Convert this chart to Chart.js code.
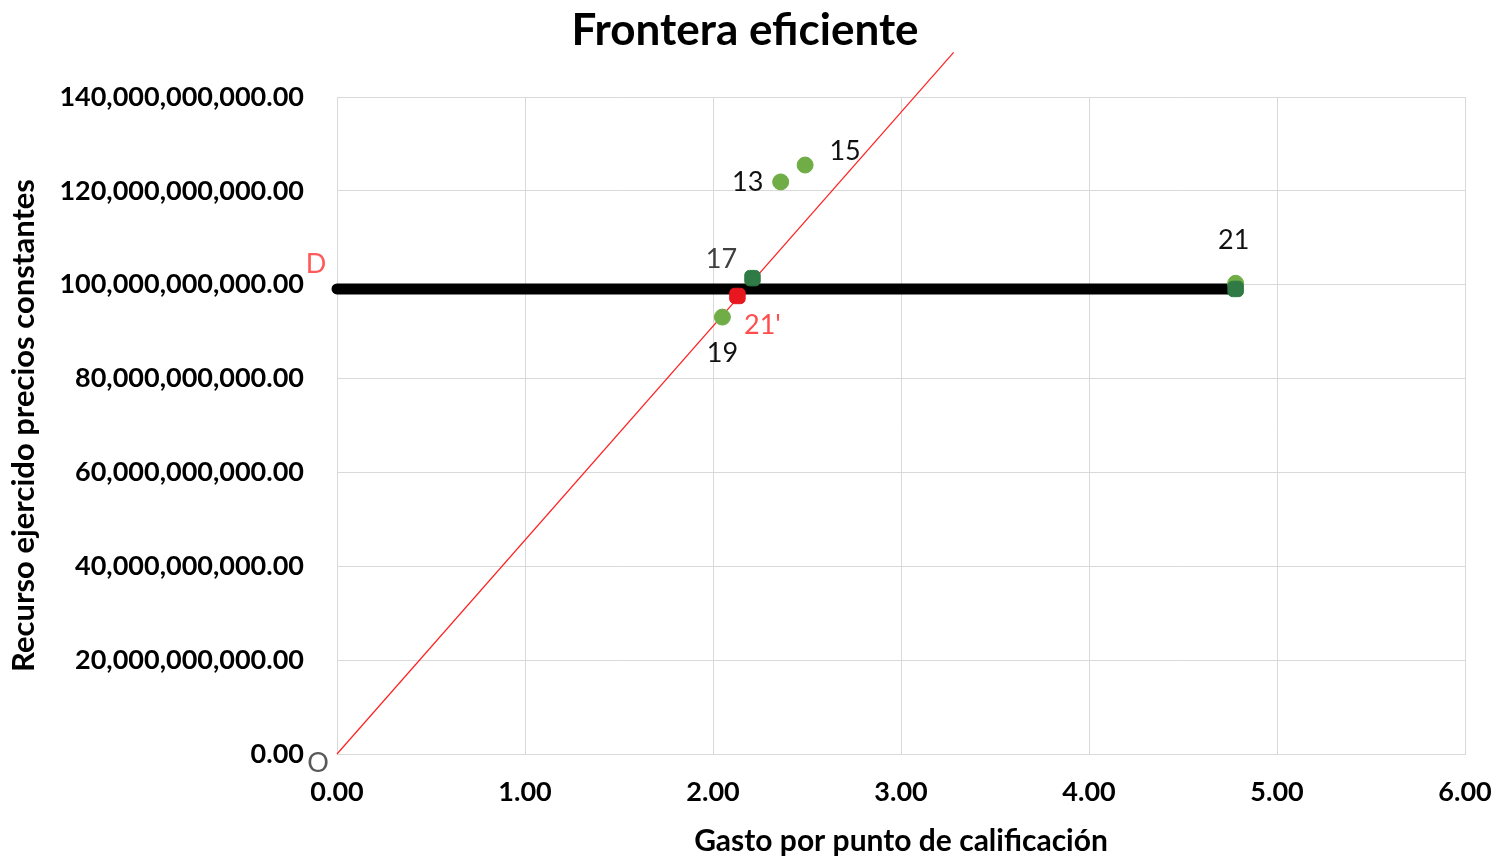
<!DOCTYPE html>
<html>
<head>
<meta charset="utf-8">
<script src="https://cdn.jsdelivr.net/npm/chart.js@4"></script>
<style>
  html, body { margin: 0; padding: 0; background: #fff; }
  #wrap { width: 1499px; height: 859px; }
</style>
</head>
<body>
<div id="wrap"><canvas id="chart" width="1499" height="859"></canvas></div>
<script>
// datos
const labelsVerdes = ['13', '15', '19', '21'];
const gastoVerdes = [2.36, 2.49, 2.05, 4.78];
const recursoVerdes = [121.9e9, 125.5e9, 93.1e9, 100.3e9];

const labelsOscuros = ['17', ''];
const gastoOscuros = [2.21, 4.78];
const recursoOscuros = [101.4e9, 99.1e9];

const labelRojo = "21'";
const gastoRojo = [2.13];
const recursoRojo = [97.6e9];

// linea D (horizontal) y linea O (frontera desde el origen)
const lineaDx = [0, 4.78];
const lineaDy = [99.1e9, 99.1e9];
const lineaOx = [0, 3.28];
const lineaOy = [0, 149.5e9];

const xTicks = [0, 1, 2, 3, 4, 5, 6];
const yTicks = [0, 20e9, 40e9, 60e9, 80e9, 100e9, 120e9, 140e9];

const pares = (xs, ys) => xs.map((x, i) => ({x: x, y: ys[i]}));

// desplazamiento de las etiquetas respecto al punto (px)
const offsetEtiquetas = {
    '13': [-33, 0], '15': [40, -14], '19': [0, 36], '21': [-2, -43],
    '17': [-31, -19], "21'": [25, 29]
};

const etiquetasPlugin = {
    id: 'etiquetas',
    afterDatasetsDraw(chart) {
        const {ctx, scales: {x, y}} = chart;
        ctx.save();
        ctx.textAlign = 'center';
        ctx.textBaseline = 'middle';
        ctx.font = '27px Lato';
        const dibuja = (txt, gx, ry, color) => {
            if (!txt) return;
            const off = offsetEtiquetas[txt];
            ctx.fillStyle = color;
            ctx.fillText(txt, x.getPixelForValue(gx) + off[0], y.getPixelForValue(ry) + off[1]);
        };
        labelsVerdes.forEach((t, i) => dibuja(t, gastoVerdes[i], recursoVerdes[i], '#111'));
        labelsOscuros.forEach((t, i) => dibuja(t, gastoOscuros[i], recursoOscuros[i], '#404040'));
        dibuja(labelRojo, gastoRojo[0], recursoRojo[0], '#ff4d4d');

        // D y O
        ctx.fillStyle = '#ff5a5a';
        ctx.fillText('D', x.getPixelForValue(lineaDx[0]) - 21, y.getPixelForValue(lineaDy[0]) - 25);
        ctx.fillStyle = '#595959';
        ctx.fillText('O', x.getPixelForValue(lineaOx[0]) - 19, y.getPixelForValue(lineaOy[0]) + 9);

        // titulo
        ctx.fillStyle = '#000';
        ctx.font = 'bold 44px Lato';
        ctx.fillText('Frontera eficiente', 745, 31);
        ctx.restore();
    }
};

const fuenteTicks = {family: 'Lato', weight: 'bold', size: 27};
const fuenteTitulos = {family: 'Lato', weight: 'bold', size: 30};

new Chart(document.getElementById('chart'), {
    type: 'scatter',
    data: {
        datasets: [
            {
                label: 'Oscuros',
                data: pares(gastoOscuros, recursoOscuros),
                pointStyle: 'rectRounded',
                pointRadius: 9,
                backgroundColor: '#2f7a45',
                borderColor: '#2f7a45',
                order: 1
            },
            {
                label: "21'",
                data: pares(gastoRojo, recursoRojo),
                pointStyle: 'rectRounded',
                pointRadius: 9,
                backgroundColor: '#e8161e',
                borderColor: '#e8161e',
                order: 2
            },
            {
                label: 'Verdes',
                data: pares(gastoVerdes, recursoVerdes),
                pointRadius: 8,
                backgroundColor: '#70ad47',
                borderColor: '#70ad47',
                order: 3
            },
            {
                label: 'D',
                type: 'line',
                data: pares(lineaDx, lineaDy),
                borderColor: '#000',
                borderWidth: 11,
                borderCapStyle: 'round',
                pointRadius: 0,
                clip: false,
                order: 4
            },
            {
                label: 'O',
                type: 'line',
                data: pares(lineaOx, lineaOy),
                borderColor: '#ff2020',
                borderWidth: 1.2,
                pointRadius: 0,
                clip: false,
                order: 5
            }
        ]
    },
    options: {
        responsive: false,
        animation: false,
        layout: {padding: {top: 97, right: 34, left: 0, bottom: 0}},
        plugins: {
            legend: {display: false},
            tooltip: {enabled: false}
        },
        scales: {
            x: {
                type: 'linear',
                min: 0, max: 6,
                afterBuildTicks: s => { s.ticks = xTicks.map(v => ({value: v})); },
                afterFit: s => { s.height = 105; s.paddingLeft = 0; s.paddingRight = 0; },
                grid: {color: '#d9d9d9', drawTicks: false},
                border: {color: '#d9d9d9'},
                ticks: {
                    padding: 22,
                    color: '#000',
                    font: fuenteTicks,
                    callback: v => v.toFixed(2)
                },
                title: {
                    display: true,
                    text: 'Gasto por punto de calificación',
                    color: '#000',
                    font: fuenteTitulos,
                    padding: {top: 0, bottom: 0}
                }
            },
            y: {
                type: 'linear',
                min: 0, max: 140e9,
                afterBuildTicks: s => { s.ticks = yTicks.map(v => ({value: v})); },
                afterFit: s => { s.width = 337; s.paddingTop = 0; s.paddingBottom = 0; },
                grid: {color: '#d9d9d9', drawTicks: false},
                border: {color: '#d9d9d9'},
                ticks: {
                    padding: 33,
                    color: '#000',
                    font: fuenteTicks,
                    callback: v => v.toLocaleString('en-US', {minimumFractionDigits: 2, maximumFractionDigits: 2})
                },
                title: {
                    display: true,
                    text: 'Recurso ejercido precios constantes',
                    color: '#000',
                    font: {family: 'Lato', weight: 'bold', size: 31},
                    padding: {top: 5, bottom: 0}
                }
            }
        }
    },
    plugins: [etiquetasPlugin]
});
</script>
</body>
</html>
